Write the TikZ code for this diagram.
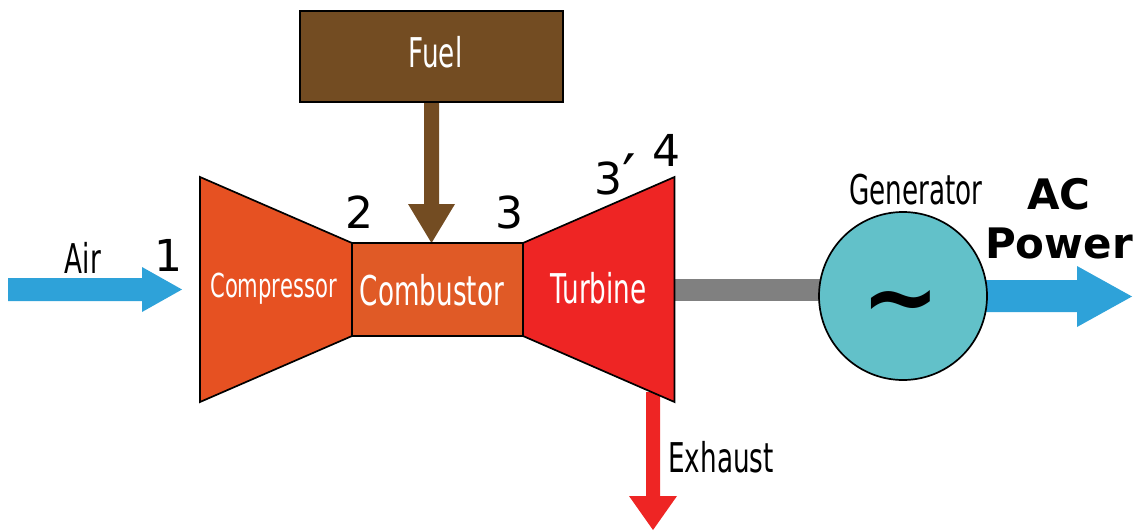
\documentclass[tikz,border=0pt]{standalone}
\usepackage{fontspec}
\setmainfont{DejaVu Sans}
\tikzset{
  blk/.style={draw=black,line width=1.7pt},
  lbl/.style={inner sep=0pt,text=black,font=\fontsize{41}{41}\selectfont\addfontfeature{FakeStretch=0.64}},
  wlbl/.style={lbl,text=white},
  num/.style={inner sep=0pt,text=black,font=\fontsize{44}{44}\selectfont},
}
\definecolor{fuel}{HTML}{734C22}
\definecolor{comp}{HTML}{E65122}
\definecolor{comb}{HTML}{E05A26}
\definecolor{turb}{HTML}{EE2524}
\definecolor{blu}{HTML}{2EA2D9}
\definecolor{teal}{HTML}{62C1C9}
\definecolor{gry}{HTML}{808080}
\begin{document}
\begin{tikzpicture}[x=1pt,y=-1pt,line join=miter]
\useasboundingbox (0,0) rectangle (1137,530);
% arrows
\fill[blu] (8,278) -- (142,278) -- (142,267) -- (182,289.5) -- (142,312) -- (142,301) -- (8,301) -- cycle;
\fill[fuel] (424,100) -- (439,100) -- (439,204) -- (455,204) -- (431.5,243) -- (408,204) -- (424,204) -- cycle;
\fill[turb] (646,392) -- (660,392) -- (660,496) -- (677,496) -- (653,530) -- (629,496) -- (646,496) -- cycle;
\fill[gry] (672,279) rectangle (822,301);
\fill[blu] (985,280) -- (1077,280) -- (1077,266) -- (1132,296.5) -- (1077,327) -- (1077,312) -- (985,312) -- cycle;
% blocks
\node[blk,fill=fuel,minimum width=263pt,minimum height=91pt,anchor=north west,outer sep=0pt] (fuelbox) at (300,11) {};
\node[wlbl] (fuellbl) at (435.5,52) {Fuel};
\draw[blk,fill=comp] (200,177) -- (352,243) -- (352,336) -- (200,402) -- cycle;
\draw[blk,fill=comb] (352,243) rectangle (523,336);
\draw[blk,fill=turb] (523,243) -- (674.5,177) -- (674.5,402) -- (523,336) -- cycle;
\node[blk,circle,fill=teal,minimum size=168pt,inner sep=0pt,outer sep=0pt] (gen) at (903,296) {};
\node[wlbl,font=\fontsize{33}{33}\selectfont\addfontfeature{FakeStretch=0.64}] (complbl) at (273.5,289) {Compressor};
\node[wlbl] (comblbl) at (432,290) {Combustor};
\node[wlbl] (turblbl) at (598.5,288) {Turbine};
\node[lbl] (airlbl) at (83,258) {Air};
\node[lbl] (genlbl) at (916,190) {Generator};
\node[lbl] (exlbl) at (721,457) {Exhaust};
\node[num] (n1) at (168,255) {1};
\node[num] (n2) at (359,212) {2};
\node[num] (n3) at (509,212) {3};
\node[num] (n3p) at (615,176) {3{\fontsize{60}{60}\selectfont\raisebox{-3pt}{′}}};
\node[num] (n4) at (666,150) {4};
\node[inner sep=0pt,font=\bfseries\fontsize{94}{94}\selectfont] (tilde) at (901,310) {\char"007E};
\node[inner sep=0pt,align=center,font=\bfseries\fontsize{42}{49}\selectfont] (ac) at (1059,219) {AC\\Power};
\end{tikzpicture}
\end{document}
